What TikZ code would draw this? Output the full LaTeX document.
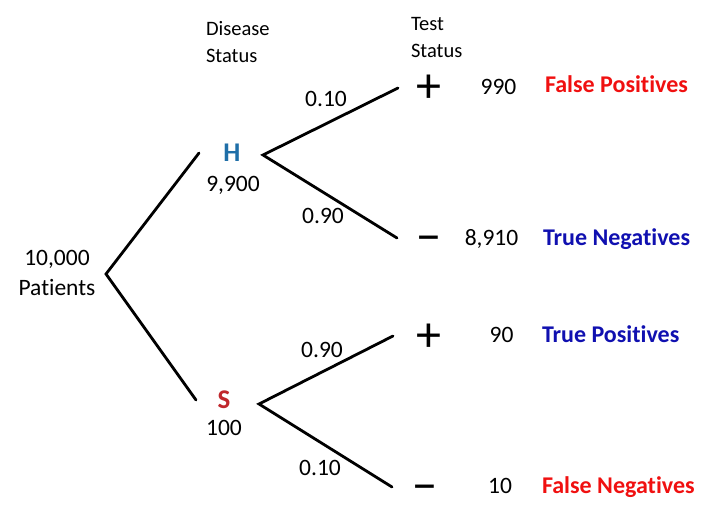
\documentclass[tikz,border=0pt]{standalone}
\usepackage{fontspec}
\setmainfont[Ligatures=NoCommon]{Carlito}
\definecolor{hblue}{HTML}{1F6FA8}
\definecolor{sred}{HTML}{C0282D}
\definecolor{tblue}{HTML}{1010B0}
\definecolor{fred}{HTML}{F01010}
\begin{document}
\begin{tikzpicture}[x=1pt,y=-1pt,
  every node/.style={inner sep=0pt,outer sep=0pt},
  txt/.style={font=\fontsize{23.5}{30}\selectfont},
  head/.style={font=\fontsize{20.5}{27.5}\selectfont,align=left,anchor=base west},
  sign/.style={font=\fontsize{50}{50}\selectfont,anchor=base},
  lbl/.style={font=\bfseries\fontsize{24}{28}\selectfont,anchor=base west},
  letter/.style={font=\bfseries\fontsize{27}{28}\selectfont,anchor=base},
  branch/.style={line width=2.8pt,line cap=round}]
\useasboundingbox (0,0) rectangle (714,529);
% headers
\node[head] (dis) at (206,63) {Disease\\Status};
\node[head] (tst) at (411,58) {Test\\Status};
% root
\node[txt,align=center,anchor=base] (root) at (57,295) {10,000\\Patients};
\coordinate (r) at (106,274);
\coordinate (hin) at (199,153);
\coordinate (sin) at (196,400);
% H
\node[letter,text=hblue] (H) at (232,162) {H};
\node[txt,anchor=base] (hn) at (233,192) {9,900};
\coordinate (hv) at (263,155);
\coordinate (hp) at (398,88);
\coordinate (hm) at (397,238);
% S
\node[letter,text=sred] (S) at (224,408) {S};
\node[txt,anchor=base] (sn) at (224,435) {100};
\coordinate (sv) at (259,404);
\coordinate (sp) at (393,336);
\coordinate (sm) at (392,487);
% branches
\draw[branch] (hin) -- (r) -- (sin);
\draw[branch] (hp) -- (hv) -- (hm);
\draw[branch] (sp) -- (sv) -- (sm);
% probabilities
\node[txt,anchor=base] (p1) at (326,107) {0.10};
\node[txt,anchor=base] (p2) at (323,224) {0.90};
\node[txt,anchor=base] (p3) at (322,357) {0.90};
\node[txt,anchor=base] (p4) at (320,475) {0.10};
% leaves
\node[sign] (l1) at (429,103) {+};
\node[txt,anchor=base] (n1) at (498.5,95) {990};
\node[lbl,text=fred] (c1) at (545,93) {False Positives};
\node[sign] (l2) at (429,253) {−};
\node[txt,anchor=base] (n2) at (491.5,246) {8,910};
\node[lbl,text=tblue] (c2) at (543,245) {True Negatives};
\node[sign] (l3) at (429,351) {+};
\node[txt,anchor=base] (n3) at (501.5,342) {90};
\node[lbl,text=tblue] (c3) at (542,342) {True Positives};
\node[sign] (l4) at (425,502) {−};
\node[txt,anchor=base] (n4) at (500,493) {10};
\node[lbl,text=fred] (c4) at (542,493) {False Negatives};
\end{tikzpicture}
\end{document}
